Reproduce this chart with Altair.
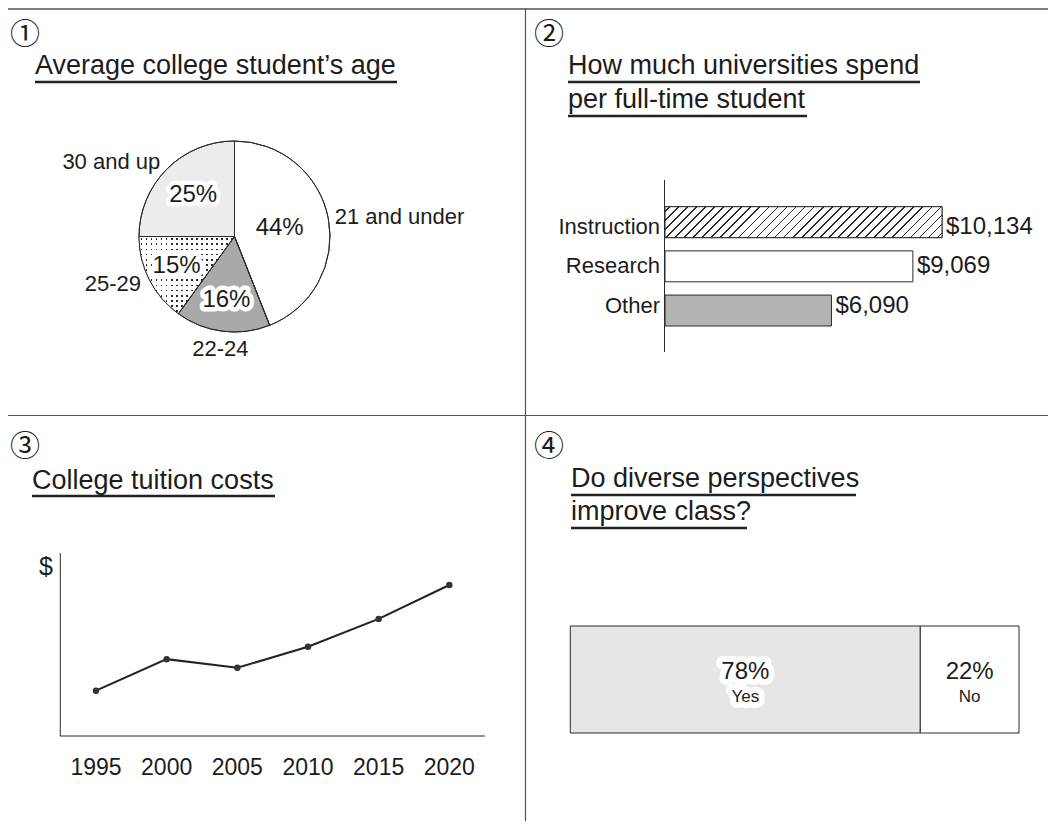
import altair as alt
import pandas as pd

# ---------------- data ----------------
age_groups = ["21 and under", "22-24", "25-29", "30 and up"]
age_shares = [44, 16, 15, 25]

spend_categories = ["Instruction", "Research", "Other"]
spend_amounts = [10134, 9069, 6090]
spend_labels = ["$10,134", "$9,069", "$6,090"]

tuition_years = [1995, 2000, 2005, 2010, 2015, 2020]
tuition_costs = [9900, 16800, 14900, 19500, 25600, 33000]

survey_answers = ["Yes", "No"]
survey_shares = [78, 22]

panel_marks = ["①", "②", "③", "④"]
panel_titles = [
    ["Average college student’s age"],
    ["How much universities spend", "per full-time student"],
    ["College tuition costs"],
    ["Do diverse perspectives", "improve class?"],
]

# ---------------- tables ----------------
age_df = pd.DataFrame({"group": age_groups, "share": age_shares})
age_df["end"] = age_df["share"].cumsum()
age_df["start"] = age_df["end"] - age_df["share"]
age_df["mid"] = (age_df["start"] + age_df["end"]) / 2
age_df["pct"] = age_df["share"].astype(str) + "%"

spend_df = pd.DataFrame({"category": spend_categories, "amount": spend_amounts, "label": spend_labels})

tuition_df = pd.DataFrame({"year": tuition_years, "cost": tuition_costs})
tuition_df["year_label"] = tuition_df["year"].astype(str)

survey_df = pd.DataFrame({"answer": survey_answers, "share": survey_shares})
survey_df["end"] = survey_df["share"].cumsum()
survey_df["start"] = survey_df["end"] - survey_df["share"]
survey_df["mid"] = (survey_df["start"] + survey_df["end"]) / 2
survey_df["pct"] = survey_df["share"].astype(str) + "%"

# ---------------- style ----------------
FONT = "Liberation Sans"
CJK = "Noto Sans CJK JP"
INK = "#1c1c1c"
LINE = "#2a2a2a"
W, H = 1040, 813


def one():
    return alt.Data(values=[{}])


def label(txt, x, y, size, align="left", baseline="alphabetic", font=FONT, color=INK):
    return alt.Chart(one()).mark_text(
        text=txt, align=align, baseline=baseline, fontSize=size, font=font, color=color
    ).encode(x=alt.value(x), y=alt.value(y))


def hrule(x1, x2, y, w=1.0, color=LINE):
    return alt.Chart(one()).mark_rule(color=color, strokeWidth=w).encode(
        x=alt.value(x1), x2=alt.value(x2), y=alt.value(y))


def vrule(x, y1, y2, w=1.0, color=LINE):
    return alt.Chart(one()).mark_rule(color=color, strokeWidth=w).encode(
        x=alt.value(x), y=alt.value(y1), y2=alt.value(y2))


def stripes(n, width, bg, fg):
    stops = [alt.GradientStop(color=bg, offset=0)]
    for i in range(n):
        c = (i + 0.5) / n
        a = round(max(0.0, c - width / 2), 5)
        b = round(min(1.0, c + width / 2), 5)
        stops += [alt.GradientStop(color=bg, offset=a), alt.GradientStop(color=fg, offset=a),
                  alt.GradientStop(color=fg, offset=b), alt.GradientStop(color=bg, offset=b)]
    stops.append(alt.GradientStop(color=bg, offset=1))
    return stops


layers = []

# ---------------- frame ----------------
layers += [
    hrule(0, W, 1, 1.5, "#555555"),
    vrule(517.5, 0, H, 1.2, "#555555"),
    hrule(0, W, 407.5, 1.2, "#555555"),
]

# ---------------- titles ----------------
mark_pos = [(17, 27), (541, 27), (17, 439), (541, 439)]
for m, (x, y) in zip(panel_marks, mark_pos):
    layers.append(label(m, x, y, 30, align="center", baseline="middle", font=CJK))

title_pos = [
    [(27, 66, 74, 362)],
    [(560, 66, 74, 352), (560, 100, 108, 239)],
    [(24, 481, 488, 243)],
    [(563, 479, 487, 285), (563, 512, 520, 176)],
]
for lines, pos in zip(panel_titles, title_pos):
    for txt, (x, base, ul, wd) in zip(lines, pos):
        layers.append(label(txt, x, base, 27))
        layers.append(hrule(x, x + wd, ul, 2.5, "#222222"))

# ---------------- panel 1: pie ----------------
CX, CY, R = 226.5, 228.5, 95.5
theta_sc = alt.Scale(domain=[0, 100])
pie_enc = dict(
    theta=alt.Theta("start:Q", scale=theta_sc),
    theta2="end:Q",
    x=alt.value(CX),
    y=alt.value(CY),
)
pie_fill = alt.Scale(domain=age_groups, range=["#ffffff", "#a9a9a9", "#2a2a2a", "#ececec"])
layers.append(
    alt.Chart(age_df).mark_arc(radius=R, stroke=LINE, strokeWidth=1).encode(
        fill=alt.Fill("group:N", scale=pie_fill, legend=None), **pie_enc)
)
dot_cols = alt.LinearGradient(gradient="linear", x1=0, y1=0, x2=1, y2=0,
                              stops=stripes(19, 1.7 / 95.5, "#ffffff", "transparent"))
dot_rows = alt.LinearGradient(gradient="linear", x1=0, y1=0, x2=0, y2=1,
                              stops=stripes(15, 1.7 / 77.3, "#ffffff", "transparent"))
for g in (dot_cols, dot_rows):
    layers.append(
        alt.Chart(age_df).transform_filter(alt.datum.group == "25-29")
        .mark_arc(radius=R, fill=g).encode(**pie_enc)
    )
layers.append(
    alt.Chart(age_df).mark_arc(radius=R, stroke=LINE, strokeWidth=1, fillOpacity=0).encode(**pie_enc)
)
# percentage labels sit further out in the thinner slices
label_radius = alt.Radius("share:Q", scale=alt.Scale(domain=[15, 44], range=[65, 46], zero=False, nice=False))
mid_enc = dict(theta=alt.Theta("mid:Q", scale=theta_sc), x=alt.value(CX), y=alt.value(CY))
layers.append(
    alt.Chart(age_df).transform_filter(alt.datum.group != "21 and under").mark_text(
        fontSize=24, font=FONT, fill="white", stroke="white", strokeWidth=9,
        strokeJoin="round", baseline="middle").encode(text="pct:N", radius=label_radius, **mid_enc)
)
layers.append(
    alt.Chart(age_df).mark_text(fontSize=24, font=FONT, color=INK, baseline="middle")
    .encode(text="pct:N", radius=label_radius, **mid_enc)
)
for cond, align, rad in [("datum.mid < 40", "left", 102),
                         ("datum.mid >= 40 && datum.mid < 60", "center", 113),
                         ("datum.mid >= 60", "right", 105)]:
    layers.append(
        alt.Chart(age_df).transform_filter(cond).mark_text(
            radius=rad, align=align, baseline="middle", fontSize=22, font=FONT, color=INK)
        .encode(text="group:N", **mid_enc)
    )

# ---------------- panel 2: bars ----------------
BAR_X0 = 657
PX_PER_DOLLAR = 277 / 10134
x_sp = alt.Scale(domain=[0, 11000], range=[BAR_X0, BAR_X0 + 11000 * PX_PER_DOLLAR], nice=False, zero=True)
BAND_TOP, BAND_BOTTOM, PAD_IN = 198.7, 318, 0.3
y_sp = alt.Scale(domain=spend_categories, range=[BAND_TOP, BAND_BOTTOM], paddingInner=PAD_IN, paddingOuter=0)
sp_x = alt.X("amount:Q", scale=x_sp, axis=None)
sp_y = alt.Y("category:N", scale=y_sp, axis=None)

layers.append(vrule(656.5, 172, 344, 1.0, LINE))
layers.append(
    alt.Chart(spend_df).mark_bar(stroke=LINE, strokeWidth=1).encode(
        x=sp_x, y=sp_y,
        fill=alt.Fill("category:N", scale=alt.Scale(domain=spend_categories,
                                                     range=["#ffffff", "#ffffff", "#b3b3b3"]), legend=None))
)
bw = 277.0
bh = (BAND_BOTTOM - BAND_TOP) / (len(spend_categories) - PAD_IN) * (1 - PAD_IN)
k = bh / bw
ax = (1 + k) / (1 + k * k)
hatch = alt.LinearGradient(gradient="linear", x1=0, y1=0, x2=round(ax, 5), y2=round(k * ax, 5),
                           stops=stripes(34, 1.7 / (bw + bh), "#ffffff", "#2a2a2a"))
layers.append(
    alt.Chart(spend_df).transform_filter(alt.datum.category == "Instruction")
    .mark_bar(fill=hatch, stroke=LINE, strokeWidth=1).encode(x=sp_x, y=sp_y)
)
layers.append(
    alt.Chart(spend_df).mark_text(align="right", baseline="middle", fontSize=22, font=FONT, color=INK)
    .encode(y=sp_y, x=alt.value(652), text="category:N")
)
layers.append(
    alt.Chart(spend_df).mark_text(align="left", baseline="middle", dx=4, fontSize=24, font=FONT, color=INK)
    .encode(x=sp_x, y=sp_y, text="label:N")
)

# ---------------- panel 3: line ----------------
x_yr = alt.Scale(domain=[1995, 2020], range=[88, 441.3], zero=False, nice=False)
y_cost = alt.Scale(domain=[0, 40000], range=[728, 545], zero=True, nice=False)
yr_x = alt.X("year:Q", scale=x_yr, axis=None)
cost_y = alt.Y("cost:Q", scale=y_cost, axis=None)
layers += [
    vrule(52.3, 545, 728, 1.0, LINE),
    hrule(52, 477, 728, 1.0, LINE),
    label("$", 38, 559, 25, align="center", baseline="middle"),
]
layers.append(alt.Chart(tuition_df).mark_line(color="#222222", strokeWidth=2).encode(x=yr_x, y=cost_y))
layers.append(alt.Chart(tuition_df).mark_circle(size=42, color="#333333", opacity=1).encode(x=yr_x, y=cost_y))
layers.append(
    alt.Chart(tuition_df).mark_text(fontSize=23, font=FONT, color=INK, baseline="middle")
    .encode(x=yr_x, y=alt.value(760), text="year_label:N")
)

# ---------------- panel 4: 100% bar ----------------
x_sv = alt.Scale(domain=[0, 100], range=[562.3, 1011], nice=False, zero=True)
layers.append(
    alt.Chart(survey_df).mark_bar(stroke=LINE, strokeWidth=1).encode(
        x=alt.X("start:Q", scale=x_sv, axis=None), x2="end:Q",
        y=alt.value(618), y2=alt.value(725),
        fill=alt.Fill("answer:N", scale=alt.Scale(domain=survey_answers, range=["#e6e6e6", "#ffffff"]),
                      legend=None))
)
sv_mid = alt.X("mid:Q", scale=x_sv, axis=None)
for field, yv, size in [("pct:N", 664, 24), ("answer:N", 689, 17)]:
    layers.append(
        alt.Chart(survey_df).mark_text(fontSize=size, font=FONT, fill="white", stroke="white",
                                       strokeWidth=12, strokeJoin="round", baseline="middle")
        .encode(x=sv_mid, y=alt.value(yv), text=field)
    )
for field, yv, size in [("pct:N", 664, 24), ("answer:N", 689, 17)]:
    layers.append(
        alt.Chart(survey_df).mark_text(fontSize=size, font=FONT, color=INK, baseline="middle")
        .encode(x=sv_mid, y=alt.value(yv), text=field)
    )

chart = (
    alt.layer(*layers)
    .resolve_scale(x="independent", y="independent", theta="independent", fill="independent")
    .properties(width=W, height=H, padding=0, background="white",
                autosize=alt.AutoSizeParams(type="none"))
    .configure_view(strokeWidth=0)
)

chart.save("out.html", embed_options={"renderer": "svg", "actions": False})
